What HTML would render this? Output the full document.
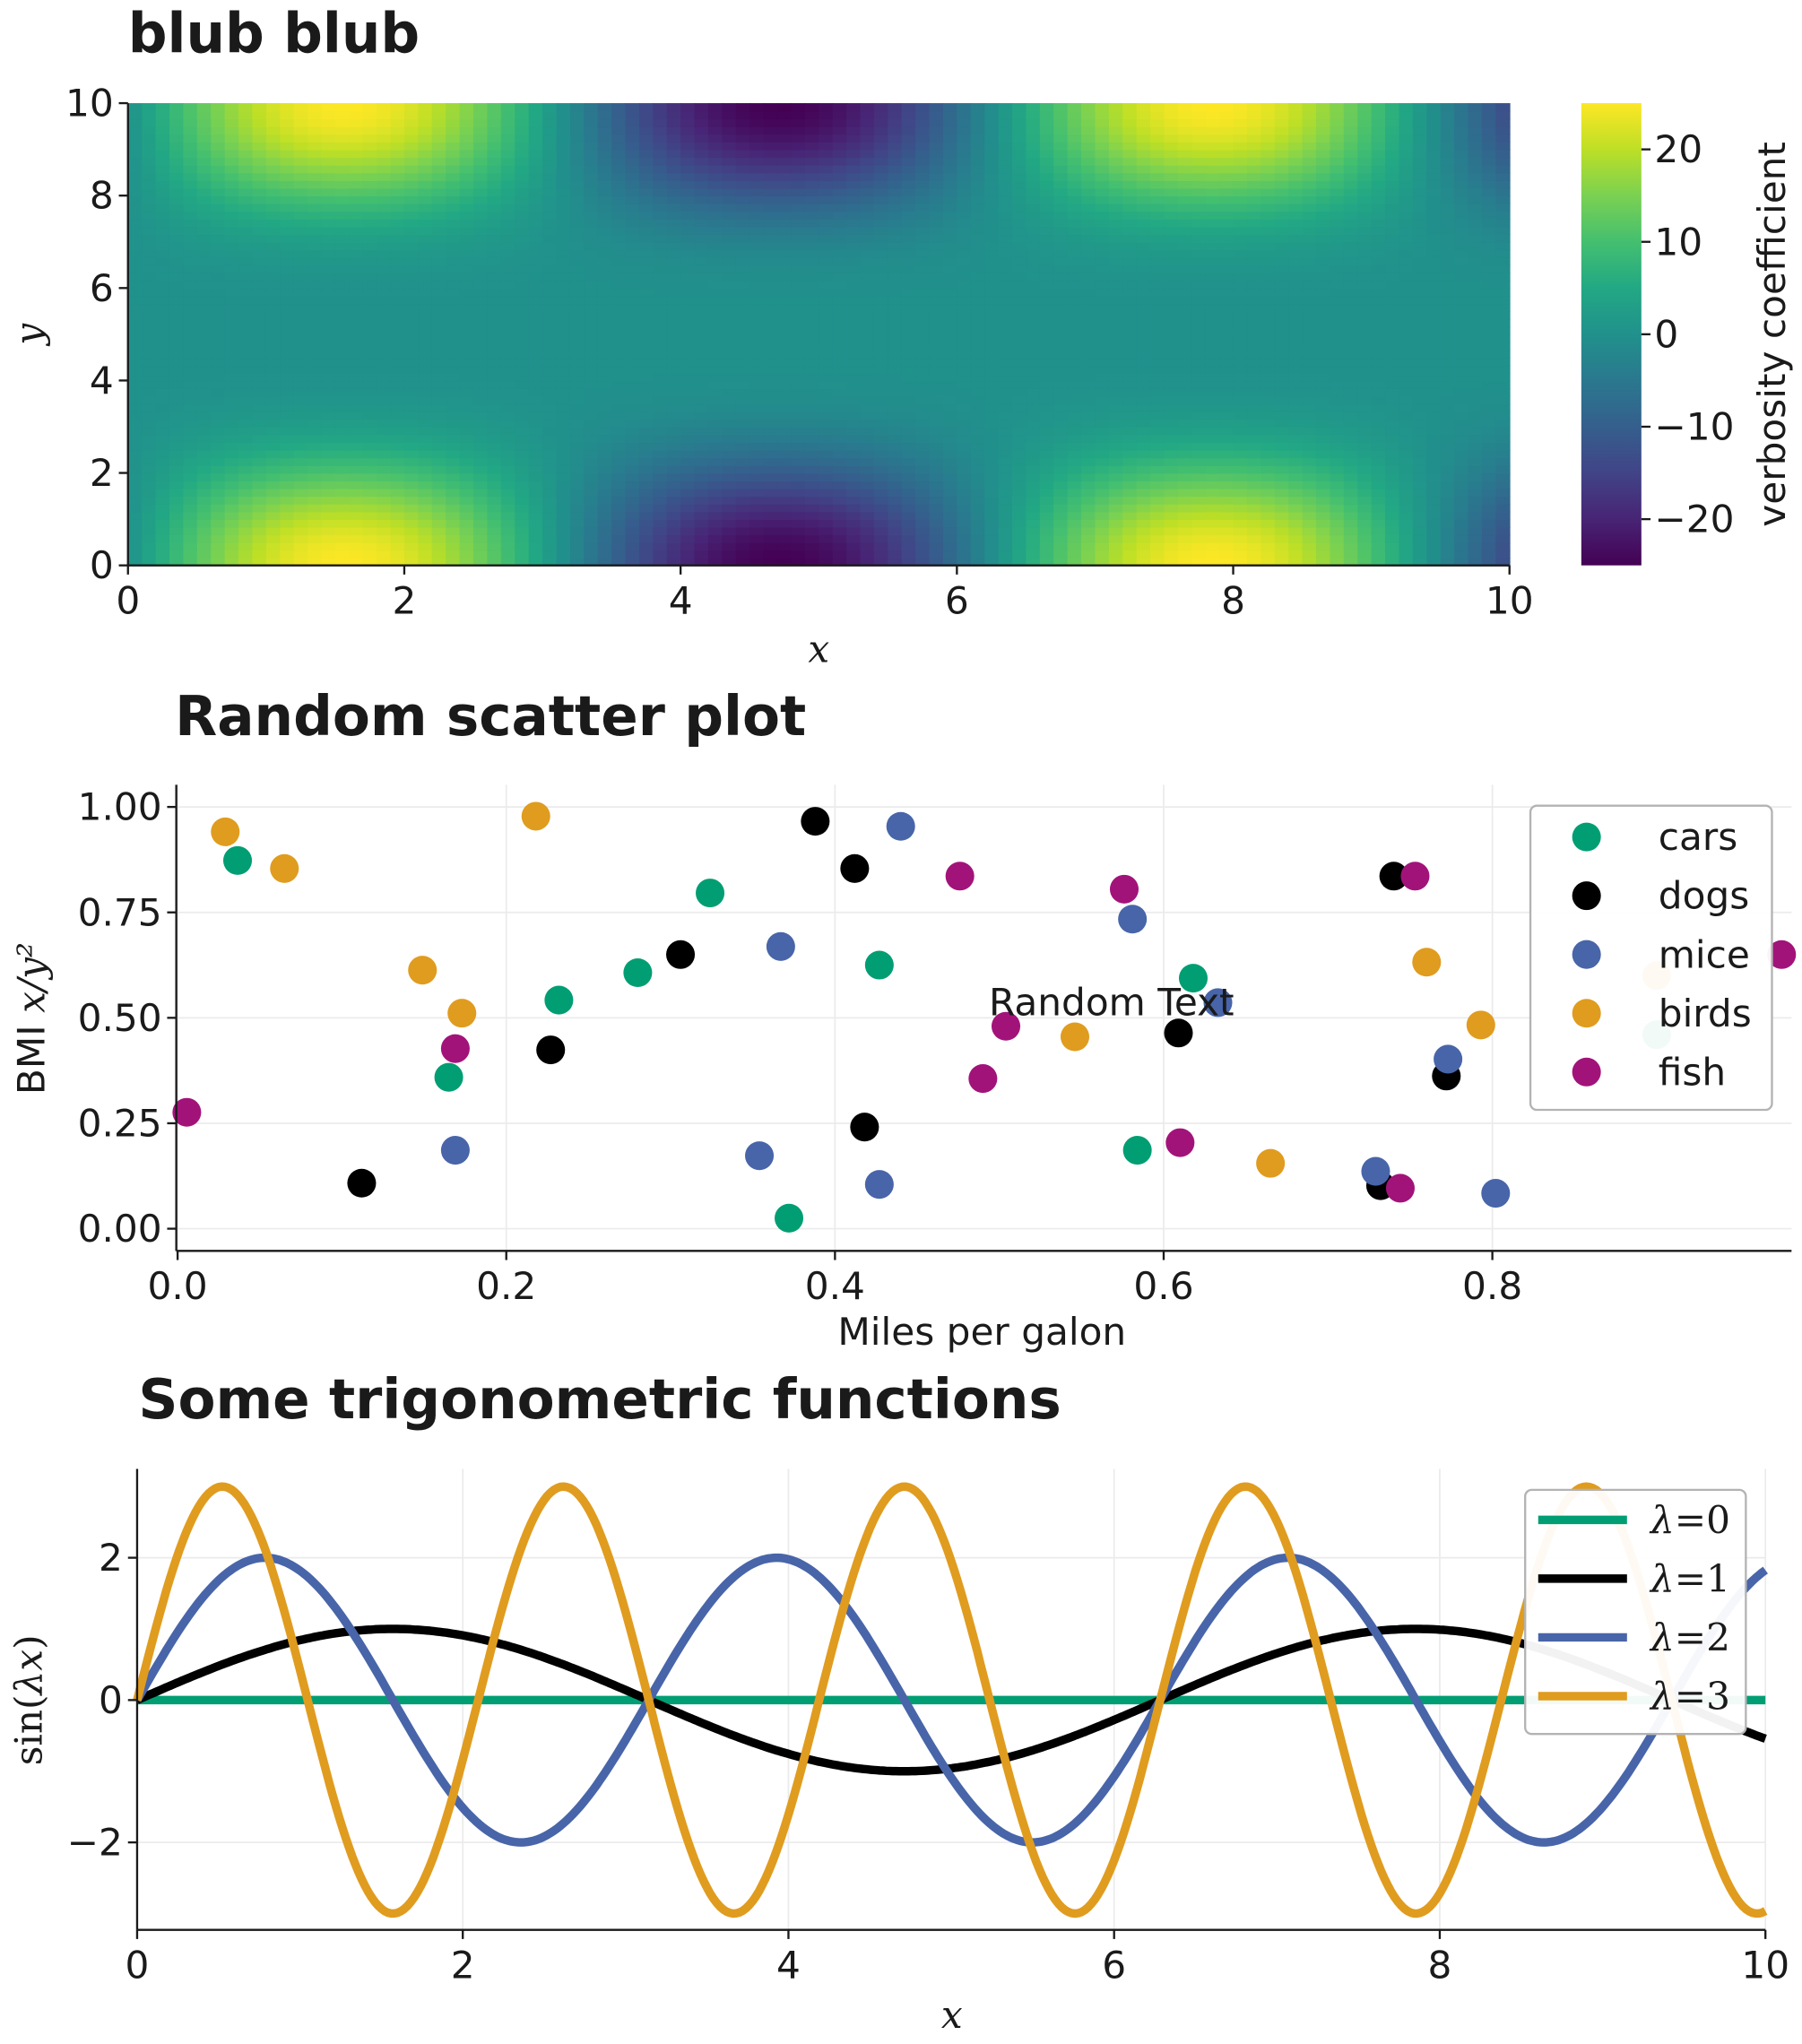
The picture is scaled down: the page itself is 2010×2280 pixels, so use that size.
<!DOCTYPE html>
<html><head><meta charset="utf-8"><style>
html,body{margin:0;padding:0;background:#fff;}
svg{display:block;}
text{font-family:"DejaVu Sans","Liberation Sans",sans-serif;fill:#1a1a1a;}
.tk{font-size:29px;}
.ttl{font-size:42px;font-weight:bold;}
.srf{font-family:"DejaVu Serif","Liberation Serif",serif;font-style:italic;}
</style></head><body>
<svg id="fig" width="2010" height="2280" viewBox="0 0 1380 1565.4" xmlns="http://www.w3.org/2000/svg">
<defs>
<linearGradient id="vir" x1="0" y1="1" x2="0" y2="0">
<stop offset="0" stop-color="#440154"/><stop offset="0.1" stop-color="#482475"/><stop offset="0.2" stop-color="#414487"/><stop offset="0.3" stop-color="#355f8d"/><stop offset="0.4" stop-color="#2a788e"/><stop offset="0.5" stop-color="#21918c"/><stop offset="0.6" stop-color="#22a884"/><stop offset="0.7" stop-color="#44bf70"/><stop offset="0.8" stop-color="#7ad151"/><stop offset="0.9" stop-color="#bddf26"/><stop offset="1" stop-color="#fde725"/>
</linearGradient>
</defs>
<text class="ttl" x="98" y="40">blub blub</text>
<g id="heat"></g>
<g id="heatAxes"></g>
<rect x="1211" y="79" width="46" height="354" fill="url(#vir)"/>
<g id="cbAxis"></g>
<text class="tk" transform="translate(1367,256) rotate(-90)" text-anchor="middle">verbosity coefficient</text>
<text class="tk srf" x="627" y="507" text-anchor="middle">x</text>
<text class="tk srf" transform="translate(32,256) rotate(-90)" text-anchor="middle">y</text>

<text class="ttl" x="134" y="563">Random scatter plot</text>
<g id="scat"></g>
<text class="tk" x="752" y="1030" text-anchor="middle">Miles per galon</text>
<text class="tk" transform="translate(34,780) rotate(-90)" text-anchor="middle">BMI <tspan class="srf">x/y²</tspan></text>

<text class="ttl" x="106" y="1086">Some trigonometric functions</text>
<g id="trig"></g>
<text class="tk srf" x="729" y="1553" text-anchor="middle">x</text>
<text class="tk" transform="translate(32,1302) rotate(-90)" text-anchor="middle" style="font-family:'DejaVu Serif','Liberation Serif',serif">sin(<tspan class="srf">λx</tspan>)</text>
</svg>
<script>
// ---------- heatmap data ----------
const heatNx = 100, heatNy = 60;
const heatAmplitude = 25;
const heatXTicks = [0,2,4,6,8,10];
const heatYTicks = [0,2,4,6,8,10];
const cbTicks = [-20,-10,0,10,20];
// ---------- scatter data ----------
const groups = ['cars','dogs','mice','birds','fish'];
const groupColors = ['#029e73','#000000','#4865a9','#e09c1f','#a2137a'];
const carsX = [0.0365,0.165,0.232,0.280,0.324,0.372,0.427,0.584,0.618,0.90];
const carsY = [0.873,0.359,0.542,0.607,0.796,0.025,0.625,0.186,0.594,0.46];
const dogsX = [0.112,0.227,0.306,0.388,0.412,0.418,0.609,0.732,0.740,0.772];
const dogsY = [0.108,0.424,0.650,0.966,0.854,0.241,0.464,0.102,0.836,0.362];
const miceX = [0.169,0.354,0.367,0.427,0.440,0.581,0.633,0.729,0.773,0.802];
const miceY = [0.186,0.173,0.669,0.105,0.954,0.734,0.536,0.136,0.402,0.084];
const birdsX = [0.029,0.065,0.149,0.173,0.218,0.546,0.665,0.760,0.793,0.90];
const birdsY = [0.941,0.854,0.613,0.511,0.978,0.455,0.155,0.632,0.483,0.60];
const fishX = [0.0056,0.169,0.476,0.490,0.504,0.576,0.610,0.744,0.753,0.976];
const fishY = [0.276,0.427,0.836,0.356,0.480,0.805,0.204,0.096,0.836,0.650];
const scatXTicks = [0.0,0.2,0.4,0.6,0.8];
const scatYTicks = [0.00,0.25,0.50,0.75,1.00];
// ---------- trig data ----------
const lambdas = [0,1,2,3];
const trigColors = ['#029e73','#000000','#4865a9','#e09c1f'];
const trigXTicks = [0,2,4,6,8,10];
const trigYTicks = [-2,0,2];
const trigSamples = 500;

const NS='http://www.w3.org/2000/svg';
function mk(tag, attrs, parent){const e=document.createElementNS(NS,tag);for(const k in attrs)e.setAttribute(k,attrs[k]);parent.appendChild(e);return e;}
const vir=[[68,1,84],[72,36,117],[65,68,135],[53,95,141],[42,120,142],[33,145,140],[34,168,132],[68,191,112],[122,209,81],[189,223,38],[253,231,37]];
function cmap(t){t=Math.max(0,Math.min(1,t))*10;const i=Math.min(9,Math.floor(t)),f=t-i;const a=vir[i],b=vir[i+1];return 'rgb('+a.map((v,k)=>Math.round(v+(b[k]-v)*f)).join(',')+')';}
function fmt(v,d){return (v<0?'\u2212':'')+Math.abs(v).toFixed(d);}

// ---------- heatmap ----------
(function(){
const g=document.getElementById('heat'), ax=document.getElementById('heatAxes');
const L=98,R=1156,T=79,B=433;
const sx=v=>L+(v/10)*(R-L), sy=v=>B-(v/10)*(B-T);
const cw=(R-L)/heatNx, ch=(B-T)/heatNy;
for(let i=0;i<heatNx;i++){for(let j=0;j<heatNy;j++){
  const x=(i+0.5)*10/heatNx, y=(j+0.5)*10/heatNy;
  const z=heatAmplitude*Math.sin(x)*Math.pow(Math.cos(Math.PI*y/10),4);
  const r=mk('rect',{x:sx(i*10/heatNx),y:sy((j+1)*10/heatNy),width:cw+0.6,height:ch+0.6,fill:cmap((z+25)/50)},g);
  
  
}}
mk('line',{x1:L,y1:T,x2:L,y2:B,stroke:'#1a1a1a','stroke-width':1.6},ax);
mk('line',{x1:L,y1:B,x2:R,y2:B,stroke:'#1a1a1a','stroke-width':1.6},ax);
heatXTicks.forEach(v=>{mk('line',{x1:sx(v),y1:B,x2:sx(v),y2:B+7,stroke:'#1a1a1a','stroke-width':1.6},ax);
  const t=mk('text',{x:sx(v),y:B+37,'text-anchor':'middle',class:'tk'},ax);t.textContent=v;
  
  });
heatYTicks.forEach(v=>{mk('line',{x1:L-7,y1:sy(v),x2:L,y2:sy(v),stroke:'#1a1a1a','stroke-width':1.6},ax);
  const t=mk('text',{x:L-11,y:sy(v)+10,'text-anchor':'end',class:'tk'},ax);t.textContent=v;
  
  });
const cb=document.getElementById('cbAxis');
const cy=v=>433-((v+25)/50)*354;
cbTicks.forEach(v=>{mk('line',{x1:1257,y1:cy(v),x2:1264,y2:cy(v),stroke:'#1a1a1a','stroke-width':1.6},cb);
  const t=mk('text',{x:1267,y:cy(v)+10,class:'tk'},cb);t.textContent=fmt(v,0);
  
  });
})();

// ---------- scatter ----------
(function(){
const g=document.getElementById('scat');
const L=135,R=1372,T=601,B=958;
const sx=v=>136+v*1258.6, sy=v=>941-v*323;
scatXTicks.forEach(v=>mk('line',{x1:sx(v),y1:T,x2:sx(v),y2:B,stroke:'#ebebeb','stroke-width':1.2},g));
scatYTicks.forEach(v=>mk('line',{x1:L,y1:sy(v),x2:R,y2:sy(v),stroke:'#ebebeb','stroke-width':1.2},g));
const xs=[carsX,dogsX,miceX,birdsX,fishX], ys=[carsY,dogsY,miceY,birdsY,fishY];
xs.forEach((arr,k)=>arr.forEach((v,i)=>{
  const c=mk('circle',{cx:sx(v),cy:sy(ys[k][i]),r:11,fill:groupColors[k]},g);
  
  
}));
const rt=mk('text',{x:sx(0.5)-8,y:sy(0.5)-2,class:'tk'},g);rt.textContent='Random Text';


mk('line',{x1:L,y1:T,x2:L,y2:B,stroke:'#1a1a1a','stroke-width':1.6},g);
mk('line',{x1:L,y1:B,x2:R,y2:B,stroke:'#1a1a1a','stroke-width':1.6},g);
scatXTicks.forEach(v=>{mk('line',{x1:sx(v),y1:B,x2:sx(v),y2:B+7,stroke:'#1a1a1a','stroke-width':1.6},g);
  const t=mk('text',{x:sx(v),y:B+37,'text-anchor':'middle',class:'tk'},g);t.textContent=v.toFixed(1);
  
  });
scatYTicks.forEach(v=>{mk('line',{x1:L-7,y1:sy(v),x2:L,y2:sy(v),stroke:'#1a1a1a','stroke-width':1.6},g);
  const t=mk('text',{x:L-11,y:sy(v)+10,'text-anchor':'end',class:'tk'},g);t.textContent=v.toFixed(2);
  
  });
const lg=mk('g',{},g);


mk('rect',{x:1172,y:617,width:185,height:233,rx:5,fill:'#fff','fill-opacity':0.95,stroke:'#b3b3b3','stroke-width':1.6},lg);
groups.forEach((n,k)=>{const y=641+k*45;
  const c=mk('circle',{cx:1215,cy:y,r:11,fill:groupColors[k]},lg);
  
  
  const t=mk('text',{x:1270,y:y+10,class:'tk'},lg);t.textContent=n;
  
  });
})();

// ---------- trig ----------
(function(){
const g=document.getElementById('trig');
const L=105,R=1352,T=1125,B=1478;
const sx=v=>L+v*(R-L)/10, sy=v=>1302-v*54.5;
trigXTicks.forEach(v=>mk('line',{x1:sx(v),y1:T,x2:sx(v),y2:B,stroke:'#ebebeb','stroke-width':1.2},g));
trigYTicks.forEach(v=>mk('line',{x1:L,y1:sy(v),x2:R,y2:sy(v),stroke:'#ebebeb','stroke-width':1.2},g));
lambdas.forEach((lam,k)=>{
  const pts=[];for(let i=0;i<=trigSamples;i++){const x=10*i/trigSamples;pts.push(sx(x).toFixed(1)+','+sy(lam*Math.sin(lam*x)).toFixed(1));}
  const p=mk('polyline',{points:pts.join(' '),fill:'none',stroke:trigColors[k],'stroke-width':6.5,'stroke-linejoin':'round'},g);
  
  
});
mk('line',{x1:L,y1:T,x2:L,y2:B,stroke:'#1a1a1a','stroke-width':1.6},g);
mk('line',{x1:L,y1:B,x2:R,y2:B,stroke:'#1a1a1a','stroke-width':1.6},g);
trigXTicks.forEach(v=>{mk('line',{x1:sx(v),y1:B,x2:sx(v),y2:B+7,stroke:'#1a1a1a','stroke-width':1.6},g);
  const t=mk('text',{x:sx(v),y:B+37,'text-anchor':'middle',class:'tk'},g);t.textContent=v;
  
  });
trigYTicks.forEach(v=>{mk('line',{x1:L-7,y1:sy(v),x2:L,y2:sy(v),stroke:'#1a1a1a','stroke-width':1.6},g);
  const t=mk('text',{x:L-11,y:sy(v)+10,'text-anchor':'end',class:'tk'},g);t.textContent=fmt(v,0);
  
  });
const lg=mk('g',{},g);


mk('rect',{x:1168,y:1141,width:169,height:187,rx:5,fill:'#fff','fill-opacity':0.95,stroke:'#b3b3b3','stroke-width':1.6},lg);
lambdas.forEach((lam,k)=>{const y=1164+k*45;
  const l=mk('line',{x1:1178,y1:y,x2:1246,y2:y,stroke:trigColors[k],'stroke-width':6.5},lg);
  
  
  const t=mk('text',{x:1264,y:y+10,class:'tk',style:"font-family:'DejaVu Serif','Liberation Serif',serif"},lg);
  t.innerHTML='<tspan font-style="italic">λ</tspan>='+lam;
  
  });
})();
</script>
</body></html>
